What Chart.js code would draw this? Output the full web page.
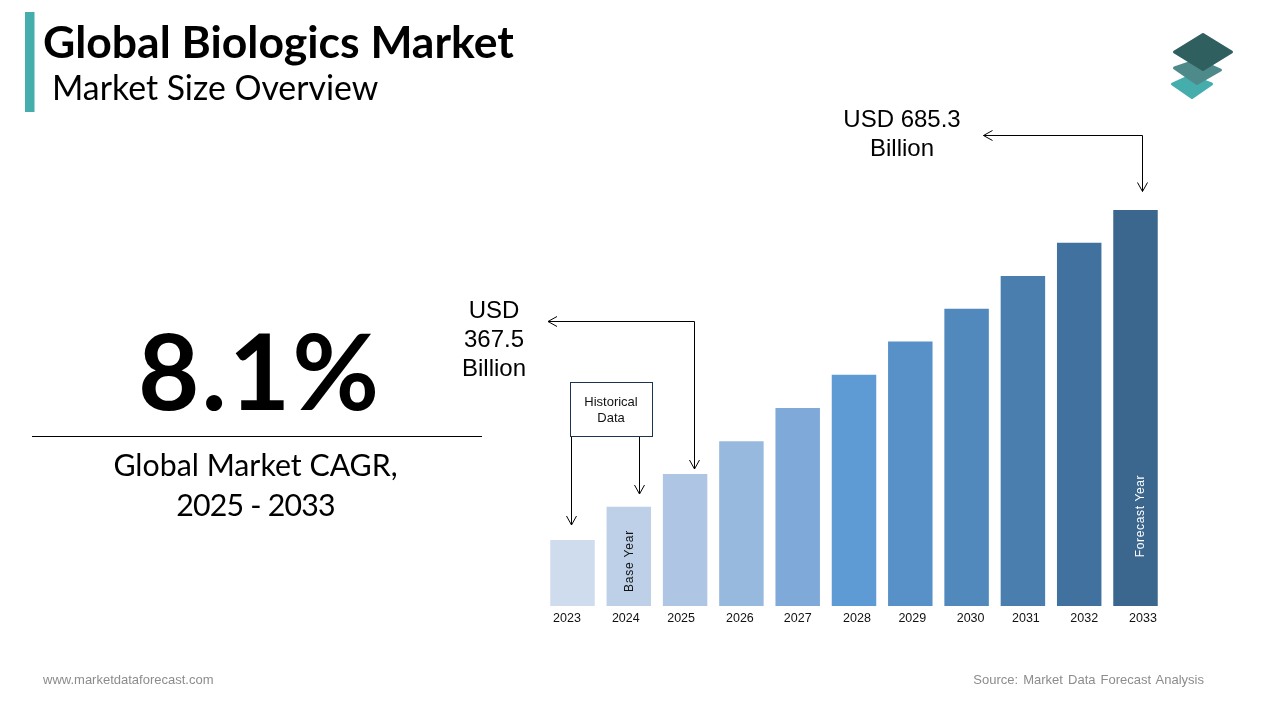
<!DOCTYPE html>
<html><head><meta charset="utf-8">
<style>
html,body{margin:0;padding:0;background:#fff;width:1280px;height:720px;overflow:hidden}
#wrap{position:relative;width:1280px;height:720px}
canvas{position:absolute;left:0;top:0}
svg{position:absolute;left:0;top:0}
.t{position:absolute;white-space:nowrap;line-height:1;color:#000}
.lato{font-family:Lato,sans-serif}
.arial{font-family:"Liberation Sans",Arial,sans-serif}
.c{text-align:center}
</style></head><body>
<div id="wrap">
<canvas id="c" width="1280" height="720" style="width:1280px;height:720px"></canvas>
<svg width="1280" height="720" fill="none">
<rect x="25" y="12" width="9.5" height="100" fill="#46ADAD"/>
<line x1="32" y1="436.5" x2="482" y2="436.5" stroke="#000"/>
<polygon points="1172.5,84 1190,76 1211.5,84 1192,97.5" fill="#45ADAC" stroke="#45ADAC" stroke-width="3" stroke-linejoin="round"/>
<polygon points="1174.5,68 1198,60 1220.5,70 1197,83.5" fill="#4F8A8A" stroke="#4F8A8A" stroke-width="3" stroke-linejoin="round"/>
<polygon points="1174.5,52 1203,34.5 1231.5,52 1203,69.5" fill="#2F5F5E" stroke="#2F5F5E" stroke-width="3" stroke-linejoin="round"/>
<rect x="570.5" y="382.5" width="82" height="54" fill="#fff" stroke="#1B3550"/>
<g stroke="#000" stroke-width="1">
<path d="M571.5 437V525M566.5 516l5 9l5-9"/>
<path d="M639.5 437V494M634.5 485l5 9l5-9"/>
<path d="M694.5 469V321.5H548M557 316.5l-9 5l9 5M689.5 460l5 9l5-9"/>
<path d="M983.5 135.5H1142.5V191.5M992.5 130.5l-9 5l9 5M1137.5 182.5l5 9l5-9"/>
</g>
</svg>
<div class="t lato" id="title" style="left:43px;top:18.5px;font-size:44.5px;font-weight:700">Global Biologics Market</div>
<div class="t lato" id="sub" style="left:52px;top:71px;font-size:33.8px">Market Size Overview</div>
<div class="t lato" id="pct" style="left:138px;top:316px;font-size:106px;font-weight:700;letter-spacing:2px">8.1%</div>
<div class="t lato c" style="left:32px;width:447px;top:444px;font-size:30.3px;line-height:40px;white-space:normal">Global Market CAGR,<br><span style="letter-spacing:-.8px">2025 - 2033</span></div>
<div class="t arial c" style="left:822px;width:160px;top:104px;font-size:24px;line-height:29px">USD 685.3<br>Billion</div>
<div class="t arial c" style="left:434px;width:120px;top:294.5px;font-size:24px;line-height:29px">USD<br>367.5<br>Billion</div>
<div class="t arial c" style="left:570px;width:82px;top:393.5px;font-size:13px;line-height:16px;color:#111">Historical<br>Data</div>
<div class="t arial" id="by" style="left:628.5px;top:560.5px;font-size:12px;letter-spacing:.8px;color:#111;transform:translate(-50%,-50%) rotate(-90deg)">Base Year</div>
<div class="t arial" id="fy" style="left:1140px;top:516px;font-size:12px;letter-spacing:.65px;color:#fff;transform:translate(-50%,-50%) rotate(-90deg)">Forecast Year</div>
<div class="t arial" style="left:43px;top:672.5px;font-size:13px;color:#8C8C8C">www.marketdataforecast.com</div>
<div class="t arial" style="right:76px;top:672.5px;font-size:13px;color:#8C8C8C;word-spacing:1.5px">Source: Market Data Forecast Analysis</div>
</div>
<script src="https://cdn.jsdelivr.net/npm/chart.js@4/dist/chart.umd.js"></script>
<script>
const years = ["2023","2024","2025","2026","2027","2028","2029","2030","2031","2032","2033"];
const marketSize = [288,328,367.5,407,447,487,527,566.5,606,646,685.3];
const barColors = ["#CFDCED","#BDD0E8","#AEC6E3","#98B9DE","#7EA9D9","#5E9AD3","#5890C8","#5189BD","#4A7EAF","#41729F","#3B678F"];
const tickNudge = [-5.5,-3,-4,-1.5,0,3,2,4,3,5,7.5];
const nudgeTicks = {id:"nudgeTicks",beforeDraw(chart){
  const items = chart.scales.x.getLabelItems();
  if(items._done) return;
  items.forEach((it,i)=>{it.options.translation=[it.options.translation[0]+tickNudge[i],it.options.translation[1]];});
  items._done = true;
}};
Chart.defaults.animation=false;
new Chart(document.getElementById("c"),{
  type:"bar",
  data:{labels:years,datasets:[{data:marketSize,backgroundColor:barColors,borderWidth:0,barPercentage:.79,categoryPercentage:1}]},
  plugins:[nudgeTicks],
  options:{
    responsive:false,animation:false,devicePixelRatio:1,
    layout:{padding:{left:544.35,right:116.35,top:210,bottom:94}},
    plugins:{legend:{display:false},title:{display:false},tooltip:{enabled:false}},
    scales:{
      x:{grid:{display:false,drawTicks:false},border:{display:false},
         afterFit(s){s.height=20;},
         ticks:{color:"#111",font:{family:'"Liberation Sans",Arial,sans-serif',size:12.5},padding:5,maxRotation:0,autoSkip:false}},
      y:{display:false,min:208.6,max:685.3}
    }
  }
});
</script>
</body></html>
